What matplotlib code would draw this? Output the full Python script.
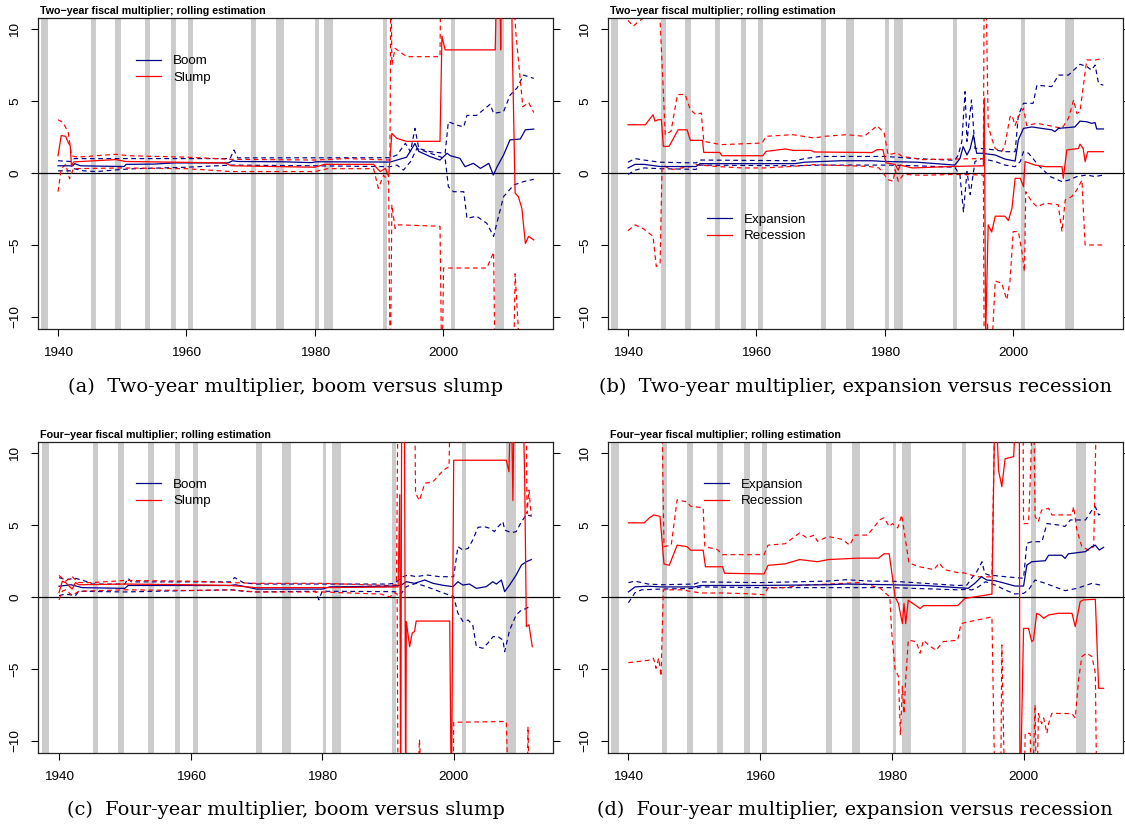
import matplotlib
matplotlib.use("Agg")
import matplotlib.pyplot as plt

plt.rcParams['font.family'] = ['Liberation Sans', 'DejaVu Sans']

# ---------------- data ----------------
RECESSIONS = [(1937.4, 1938.5), (1945.1, 1945.9), (1948.9, 1949.8), (1953.5, 1954.4),
              (1957.6, 1958.4), (1960.3, 1961.1), (1970.0, 1970.9), (1973.9, 1975.2),
              (1980.1, 1980.6), (1981.5, 1982.9), (1990.6, 1991.3), (2001.2, 2001.9),
              (2008.0, 2009.5)]

YTICKS = [-10, -5, 0, 5, 10]
XTICKS = [1940, 1960, 1980, 2000]

TITLES = ["Two\u2212year fiscal multiplier; rolling estimation",
          "Two\u2212year fiscal multiplier; rolling estimation",
          "Four\u2212year fiscal multiplier; rolling estimation",
          "Four\u2212year fiscal multiplier; rolling estimation"]
CAPTIONS = ["(a)  Two-year multiplier, boom versus slump",
            "(b)  Two-year multiplier, expansion versus recession",
            "(c)  Four-year multiplier, boom versus slump",
            "(d)  Four-year multiplier, expansion versus recession"]
LEGENDS = [("Boom", "Slump"), ("Expansion", "Recession"),
           ("Boom", "Slump"), ("Expansion", "Recession")]

# Panel (a): two-year, boom / slump  (year, value); +-15 = off scale
A_BOOM = [(1940, 0.5), (1942.3, 0.5), (1942.6, 0.65), (1943.5, 0.5), (1950.3, 0.45), (1950.6, 0.6),
          (1955, 0.62), (1958, 0.7), (1966.5, 0.7), (1967.2, 0.85), (1968, 0.8), (1975, 0.78),
          (1979.5, 0.72), (1980.2, 0.78), (1991.75, 0.76), (1992.8, 0.9), (1994.3, 1.1), (1995.6, 2.05),
          (1996.2, 1.5), (1998.0, 1.13), (1999.5, 0.9), (2000.6, 1.37), (2001.1, 1.2), (2002.6, 1.02),
          (2003.4, 0.44), (2004.7, 0.67), (2005.8, 0.32), (2007.1, 0.67), (2007.8, -0.14), (2008.4, 0.44),
          (2009.4, 1.25), (2010.4, 2.3), (2012.0, 2.36), (2012.8, 3.0), (2014.1, 3.05)]
A_BOOM_HI = [(1940, 0.85), (1942, 0.8), (1942.5, 1.0), (1945, 1.0), (1955, 1.0), (1966.8, 1.0), (1967.4, 1.6),
             (1968, 1.05), (1991.75, 1.06), (1992.8, 1.25), (1994.1, 2.06), (1994.9, 1.48), (1995.6, 3.1),
             (1996.2, 1.7), (1998, 1.48), (2000.3, 1.37), (2000.8, 3.56), (2002.1, 3.33), (2003.2, 3.2),
             (2003.7, 4.0), (2005.2, 4.0), (2006.3, 4.4), (2007.3, 4.77), (2007.85, 4.14), (2009.4, 4.26),
             (2010.4, 5.4), (2011.5, 5.9), (2012.5, 6.8), (2014.1, 6.57)]
A_BOOM_LO = [(1940, 0.15), (1942, 0.15), (1942.5, 0.3), (1944, 0.15), (1946, 0.1), (1950, 0.25), (1952, 0.3),
             (1960, 0.4), (1967, 0.55), (1980, 0.5), (1991.75, 0.44), (1992.8, 0.55), (1993.8, 0.2),
             (1994.9, 0.79), (1995.9, 1.7), (1998, 1.37), (2000.3, 1.0), (2000.8, -0.95), (2001.6, -1.3),
             (2003.2, -1.3), (2003.7, -3.15), (2005.2, -3.0), (2006.8, -3.5), (2007.85, -4.4), (2008.4, -3.4),
             (2009.4, -1.64), (2011.0, -0.83), (2012.5, -0.6), (2014.1, -0.44)]
A_SLUMP = [(1940, 1.2), (1940.5, 2.6), (1941.2, 2.55), (1941.6, 2.1), (1941.9, 1.9), (1942.1, 0.45),
           (1942.4, 0.77), (1949, 0.93), (1950.5, 0.8), (1966, 0.7), (1967, 0.5), (1980, 0.4), (1981.5, 0.6),
           (1989.15, 0.6), (1989.7, 0.32), (1990.2, 0.1), (1991.0, 0.32), (1991.5, -0.25), (1992.0, 2.75),
           (1992.8, 2.4), (1994.3, 2.2), (1999.5, 2.2), (1999.8, 9.5), (2000.3, 8.55), (2008.1, 8.55),
           (2008.4, 15), (2008.8, 15), (2008.95, 8.55), (2009.1, 15), (2010.6, 15), (2010.75, 9.1),
           (2011.2, -1.4), (2011.7, -1.64), (2012.25, -2.45), (2012.8, -4.9), (2013.3, -4.4), (2014.1, -4.65)]
A_SLUMP_HI = [(1940, 3.7), (1940.8, 3.5), (1941.6, 2.8), (1942.1, 1.2), (1943, 1.1), (1949, 1.3), (1951, 1.2),
              (1960, 1.1), (1967, 0.95), (1980, 0.9), (1985, 1.0), (1991.7, 0.9), (1991.85, 15), (1992.0, 7.5),
              (1992.5, 8.66), (1994.3, 8.08), (1999.5, 8.08), (1999.65, 15), (2010.7, 15), (2011.3, 9.8),
              (2012.4, 4.6), (2013.3, 4.9), (2014.1, 4.2)]
A_SLUMP_LO = [(1940, -1.3), (1940.5, 0.3), (1941.2, 0.6), (1941.8, -0.4), (1942.4, 0.3), (1950, 0.35),
              (1960, 0.3), (1967, 0.1), (1980, 0.1), (1982, 0.3), (1989.15, 0.3), (1989.9, -1.06),
              (1990.7, -0.15), (1991.5, -0.6), (1991.75, -15), (1992.0, -2.2), (1992.5, -3.85), (1993.0, -3.6),
              (1999.5, -3.7), (1999.8, -15), (2000.05, -6.6), (2006.8, -6.6), (2007.85, -5.5), (2008.1, -15),
              (2010.9, -15), (2011.2, -7.0), (2012.25, -15), (2014.1, -15)]

# Panel (b): two-year, expansion / recession
B_EXP = [(1940, 0.35), (1941.1, 0.6), (1942.5, 0.6), (1945, 0.45), (1950.6, 0.45), (1951.2, 0.65), (1966, 0.65),
         (1967.5, 0.75), (1973, 0.85), (1978, 0.85), (1980, 0.8), (1985, 0.75), (1990.9, 0.55), (1991.7, 1.0),
         (1992.2, 1.83), (1992.8, 1.25), (1993.3, 1.7), (1993.8, 2.64), (1994.3, 1.37), (1995.1, 1.37),
         (1997.2, 1.25), (1998.7, 0.97), (2000.3, 0.83), (2000.8, 2.3), (2001.6, 3.1), (2002.9, 3.2),
         (2004.4, 3.1), (2006.0, 3.0), (2006.5, 2.87), (2007.05, 3.1), (2009.6, 3.2), (2010.4, 3.6),
         (2011.45, 3.56), (2012.2, 3.45), (2012.75, 3.5), (2013.0, 3.06), (2014.05, 3.06)]
B_EXP_HI = [(1940, 0.75), (1941.1, 1.0), (1942.5, 0.9), (1945, 0.75), (1950.6, 0.7), (1951.2, 0.9), (1966, 0.85),
            (1967.5, 1.0), (1970, 1.15), (1980, 1.15), (1985, 1.0), (1990.9, 0.88), (1991.45, 1.25), (1992.0, 2.2),
            (1992.5, 5.65), (1992.8, 2.2), (1993.5, 5.07), (1994.05, 1.7), (1995.1, 1.7), (1997.2, 1.6),
            (1998.7, 1.48), (2000.3, 1.48), (2000.8, 4.0), (2001.6, 4.84), (2003.1, 4.84), (2003.7, 6.1),
            (2006.0, 6.0), (2007.05, 6.8), (2008.6, 6.8), (2010.4, 7.55), (2011.45, 7.4), (2012.2, 7.15),
            (2012.75, 7.5), (2013.3, 6.2), (2014.05, 6.1)]
B_EXP_LO = [(1940, -0.1), (1941.1, 0.2), (1942.5, 0.35), (1945, 0.3), (1950.6, 0.25), (1951.2, 0.55), (1966, 0.5),
            (1970, 0.55), (1980, 0.55), (1985, 0.5), (1990.9, 0.4), (1991.7, -0.14), (1992.25, -2.7),
            (1992.8, 0.1), (1993.3, -1.5), (1994.05, 0.8), (1995.1, 1.0), (1997.2, 0.8), (1998.7, 0.55),
            (2000.3, 0.44), (2001.1, 0.8), (2001.6, 1.48), (2002.4, 1.37), (2003.9, 0.55), (2005.75, -0.25),
            (2007.6, -0.6), (2008.6, -0.5), (2009.9, -0.25), (2011.45, -0.14), (2012.75, -0.25), (2014.05, -0.14)]
B_REC = [(1940, 3.35), (1942.7, 3.35), (1943.9, 4.05), (1944.2, 3.6), (1944.7, 3.7), (1945.2, 3.7), (1945.5, 1.85),
         (1946.4, 1.85), (1947.8, 3.0), (1949.2, 3.0), (1949.7, 2.27), (1951.6, 2.27), (1951.8, 1.43),
         (1954.3, 1.43), (1954.6, 1.2), (1961.0, 1.2), (1961.5, 1.5), (1964.5, 1.67), (1965.7, 1.57),
         (1968.5, 1.57), (1969.0, 1.46), (1978.0, 1.42), (1978.8, 1.62), (1979.7, 1.62), (1980.2, 0.7),
         (1981.6, 0.6), (1982.1, 0.2), (1982.4, 0.55), (1984.3, 0.35), (1991.0, 0.46), (1995.35, 0.5),
         (1995.5, 5.2), (1995.7, -11.5), (1996.1, -3.6), (1996.65, -4.1), (1997.2, -3.0), (1998.7, -3.0),
         (1999.25, -3.3), (1999.8, -2.45), (2000.3, -0.37), (2001.1, -0.37), (2001.6, -0.95), (2001.85, 0.79),
         (2003.4, 0.55), (2005.0, 0.44), (2007.6, 0.44), (2007.8, -0.37), (2008.35, 1.6), (2010.15, 1.7),
         (2010.4, 2.0), (2010.9, 1.7), (2011.2, 0.79), (2011.6, 1.48), (2014.05, 1.48)]
B_REC_HI = [(1940, 10.6), (1940.8, 10.2), (1941.6, 10.5), (1942.5, 10.8), (1943.5, 11.5), (1944.9, 11.5),
            (1945.8, 2.66), (1946.7, 2.9), (1947.7, 5.45), (1948.9, 5.45), (1949.7, 4.4), (1950.6, 4.05),
            (1951.4, 4.17), (1951.8, 2.2), (1954.5, 1.97), (1960.9, 2.08), (1961.5, 2.55), (1965.7, 2.66),
            (1969.0, 2.43), (1970.7, 2.55), (1974.0, 2.66), (1976.8, 2.55), (1978.8, 3.28), (1979.9, 2.78),
            (1980.5, 1.27), (1981.9, 1.4), (1982.7, 1.16), (1985.8, 0.93), (1990.8, 0.97), (1995.35, 1.0),
            (1995.5, 15), (1995.7, 15), (1996.1, 3.3), (1996.65, 2.4), (1997.2, 1.7), (1998.2, 1.48),
            (1998.7, 1.94), (1999.5, 3.9), (1999.8, 4.0), (2000.3, 3.3), (2000.8, 3.9), (2001.6, 4.5),
            (2002.1, 3.3), (2003.7, 3.45), (2005.5, 3.3), (2007.6, 3.1), (2008.6, 3.8), (2009.4, 5.07),
            (2009.9, 4.14), (2010.4, 4.26), (2011.45, 7.85), (2012.75, 7.85), (2014.05, 7.96)]
B_REC_LO = [(1940, -4.0), (1941.1, -3.6), (1942.5, -3.9), (1943.9, -4.4), (1944.4, -6.5), (1945.0, -6.3),
            (1945.3, 0.46), (1945.8, 0.46), (1946.7, 0.23), (1948.3, 0.35), (1950.0, 0.46), (1950.6, 0.58),
            (1953.6, 0.46), (1957.8, 0.35), (1961.2, 0.35), (1965.7, 0.46), (1969.0, 0.58), (1977.4, 0.46),
            (1979.1, 0.35), (1979.9, -0.1), (1980.5, -0.46), (1981.3, -0.58), (1981.6, 0.23), (1982.1, -0.58),
            (1982.9, -0.1), (1985.8, -0.16), (1990.8, -0.1), (1995.35, -0.14), (1995.5, -15), (1996.0, -10.5),
            (1996.35, -15), (1997.2, -7.5), (1998.2, -7.65), (1999.0, -8.8), (1999.5, -7.5), (2000.0, -4.07),
            (2000.8, -4.07), (2001.35, -5.46), (2001.75, -6.85), (2001.95, -1.3), (2002.9, -2.0),
            (2003.7, -2.34), (2005.0, -2.1), (2007.0, -2.2), (2007.6, -4.07), (2008.1, -1.87), (2009.1, -1.64),
            (2009.9, -1.18), (2010.7, -0.5), (2011.2, -5.0), (2014.05, -5.0)]

# Panel (c): four-year, boom / slump
C_BOOM = [(1940, 0.75), (1941.85, 0.85), (1943.5, 0.65), (1950.0, 0.6), (1950.5, 0.8), (1966.0, 0.8),
          (1966.8, 0.85), (1968, 0.75), (1970, 0.55), (1980, 0.55), (1981.15, 0.7), (1991.0, 0.76),
          (1992.05, 0.83), (1992.8, 1.06), (1994.05, 0.95), (1995.6, 1.18), (1996.85, 0.95), (1998.4, 0.81),
          (1999.9, 0.72), (2000.65, 1.06), (2001.4, 0.83), (2002.4, 0.9), (2003.45, 0.6), (2004.95, 0.72),
          (2005.95, 1.06), (2006.5, 0.9), (2007.25, 1.18), (2007.75, 0.37), (2008.5, 0.83), (2009.5, 1.53),
          (2010.3, 2.22), (2011.05, 2.45), (2011.8, 2.6)]
C_BOOM_HI = [(1940, 1.35), (1941, 1.2), (1942.5, 1.3), (1944, 1.1), (1945, 0.9), (1950, 0.9), (1950.5, 1.3),
             (1951, 1.05), (1966, 1.05), (1966.7, 1.35), (1968, 1.0), (1970, 0.9), (1990, 0.9), (1991.0, 0.95),
             (1992.3, 1.41), (1993.05, 1.53), (1994.3, 1.41), (1995.85, 1.53), (1997.9, 1.41), (2000.0, 1.41),
             (2000.65, 3.5), (2001.4, 3.26), (2002.2, 3.38), (2002.9, 3.96), (2003.7, 4.84), (2004.7, 4.88),
             (2005.5, 4.77), (2006.2, 4.54), (2006.75, 4.88), (2007.5, 5.23), (2007.75, 4.65), (2008.75, 4.47),
             (2009.5, 4.54), (2010.3, 5.23), (2011.05, 5.7), (2011.8, 5.63)]
C_BOOM_LO = [(1940, 0.1), (1941, 0.2), (1942.5, 0.1), (1943, 0.4), (1950, 0.35), (1960, 0.45), (1966.5, 0.5),
             (1968, 0.4), (1970, 0.35), (1979, 0.4), (1979.5, -0.2), (1980, 0.4), (1991.0, 0.37), (1992.05, 0.25),
             (1992.8, 0.72), (1994.3, 0.95), (1995.85, 0.72), (1997.9, 0.37), (2000.0, 0.02), (2000.65, -1.13),
             (2001.4, -1.7), (2002.2, -1.6), (2002.9, -1.94), (2003.45, -3.45), (2004.45, -3.56), (2005.2, -3.2),
             (2006.0, -2.75), (2006.75, -2.75), (2007.5, -3.0), (2007.75, -3.8), (2008.5, -2.3), (2009.5, -1.25),
             (2010.3, -0.9), (2011.05, -0.8), (2011.8, -0.56)]
C_SLUMP = [(1940, 0.3), (1940.5, 1.1), (1941, 1.0), (1942, 0.55), (1942.5, 1.0), (1943, 0.85), (1950, 0.9),
           (1960, 0.85), (1966, 0.8), (1970, 0.65), (1980, 0.65), (1991.55, 0.7), (1991.8, 7.1), (1991.95, -15),
           (1992.1, 15), (1992.5, 15), (1992.7, -15), (1992.8, -1.7), (1993.3, -3.45), (1993.7, -2.5),
           (1994.05, -2.4), (1994.3, -1.67), (1999.4, -1.67), (1999.65, -15), (2000.0, 9.5), (2008.0, 9.5),
           (2008.4, 8.7), (2008.75, 15), (2009.0, 6.7), (2009.25, 15), (2010.5, 15), (2010.8, 8.0),
           (2011.05, -2.06), (2011.45, -1.94), (2011.95, -3.45)]
C_SLUMP_HI = [(1940, 1.5), (1941, 1.1), (1942, 1.4), (1943, 1.0), (1945, 1.0), (1950, 1.15), (1960, 1.1),
              (1966, 1.0), (1970, 0.95), (1980, 0.95), (1990, 0.8), (1991.3, 0.85), (1991.55, 15), (1994.05, 15),
              (1994.2, 7.2), (1994.8, 6.7), (1995.6, 7.9), (1996.85, 8.0), (1998.4, 8.8), (1999.3, 9.05),
              (1999.5, 15), (2011.0, 15), (2011.15, 5.8), (2011.45, 7.43), (2011.8, 5.58)]
C_SLUMP_LO = [(1940, -0.2), (1940.5, 0.4), (1941, 0.5), (1942, 0.1), (1943, 0.4), (1950, 0.5), (1960, 0.45),
              (1966, 0.5), (1970, 0.35), (1980, 0.35), (1989, 0.2), (1990.3, 0.0), (1991.0, 0.3), (1991.4, 0.2),
              (1991.55, -15), (1994.3, -15), (1994.8, -9.9), (1995.3, -15), (1999.9, -15), (2000.0, -8.7),
              (2008.0, -8.65), (2008.4, -15), (2011.15, -15), (2011.3, -9.0), (2011.55, -15)]

# Panel (d): four-year, expansion / recession
D_EXP = [(1940, 0.35), (1941.0, 0.7), (1943, 0.75), (1945, 0.7), (1950, 0.7), (1951, 0.8), (1960, 0.8),
         (1970, 0.85), (1973, 0.9), (1980, 0.85), (1985, 0.8), (1990, 0.65), (1991.6, 0.6), (1992.6, 0.95),
         (1993.6, 1.41), (1994.4, 1.18), (1995.7, 1.13), (1997.2, 0.95), (1998.7, 0.76), (2000.0, 0.76),
         (2000.5, 2.22), (2001.25, 2.45), (2003.3, 2.52), (2003.8, 2.9), (2005.8, 2.9), (2006.3, 2.68),
         (2006.8, 3.0), (2009.4, 3.15), (2010.4, 3.5), (2010.9, 3.6), (2011.5, 3.26), (2012.15, 3.45)]
D_EXP_HI = [(1940, 1.0), (1941, 1.1), (1943, 0.9), (1945, 0.85), (1950, 0.9), (1951, 1.05), (1960, 1.0),
            (1970, 1.1), (1973, 1.2), (1977, 1.1), (1980, 1.1), (1990, 0.8), (1991.4, 0.83), (1992.1, 1.3),
            (1992.9, 1.76), (1993.7, 2.45), (1994.1, 1.64), (1994.7, 1.53), (1997.2, 1.41), (2000.0, 1.3),
            (2000.5, 3.73), (2001.25, 3.84), (2002.8, 3.84), (2003.55, 5.1), (2005.3, 5.0), (2006.3, 4.9),
            (2007.1, 5.35), (2009.4, 5.35), (2010.4, 6.04), (2010.9, 6.27), (2011.4, 5.7), (2011.65, 5.76)]
D_EXP_LO = [(1940, -0.4), (1941, 0.3), (1942, 0.5), (1945, 0.55), (1950, 0.6), (1951, 0.7), (1960, 0.65),
            (1970, 0.65), (1980, 0.65), (1990, 0.5), (1991.4, 0.53), (1992.15, 0.49), (1993.2, 0.72),
            (1994.2, 1.06), (1995.7, 0.83), (1997.2, 0.49), (1998.7, 0.21), (2000.0, 0.25), (2000.75, 0.49),
            (2001.75, 1.18), (2003.3, 0.95), (2006.3, 0.44), (2008.1, 0.6), (2010.4, 0.95), (2011.65, 0.83)]
D_REC = [(1940, 5.15), (1942.4, 5.15), (1943.2, 5.5), (1943.85, 5.7), (1944.8, 5.6), (1945.4, 2.3),
         (1946.2, 2.2), (1947.4, 3.6), (1948.9, 3.5), (1949.45, 3.25), (1951.35, 3.25), (1951.7, 2.1),
         (1954.3, 2.1), (1954.6, 1.65), (1960.6, 1.6), (1961.2, 2.2), (1963.8, 2.3), (1966.0, 2.6),
         (1968.7, 2.45), (1970.35, 2.6), (1975, 2.7), (1978.0, 2.7), (1978.8, 3.0), (1979.6, 3.0),
         (1980.5, 0.0), (1981.0, -0.45), (1981.6, -1.85), (1981.85, -0.45), (1982.1, -1.85), (1982.5, -0.23),
         (1984.3, -0.8), (1984.8, -0.6), (1990.0, -0.6), (1991.1, -0.1), (1995.2, 0.2), (1995.7, 15),
         (1996.2, 8.8), (1996.7, 7.66), (1997.2, 9.6), (1998.5, 9.75), (1999.0, 15), (1999.35, 15),
         (1999.45, -15), (2000.0, -2.18), (2000.75, -2.18), (2001.25, -3.1), (2001.5, -3.0), (2002.0, -1.13),
         (2002.5, -1.25), (2003.05, -1.48), (2003.8, -1.25), (2005.3, -1.13), (2007.35, -1.13),
         (2007.85, -2.06), (2008.6, -0.32), (2009.1, -0.2), (2010.9, -0.16), (2011.4, -6.34), (2012.15, -6.34)]
D_REC_HI = [(1940, 15), (1945.0, 15), (1945.4, 3.5), (1946.5, 3.6), (1947.4, 6.75), (1948.9, 6.6),
            (1949.45, 6.3), (1951.35, 6.2), (1951.6, 3.5), (1953.5, 3.3), (1954.3, 2.94), (1960.6, 2.94),
            (1961.2, 3.6), (1963.8, 3.7), (1966.0, 4.45), (1967.1, 4.1), (1968.2, 4.3), (1968.7, 3.87),
            (1970.35, 4.2), (1972.5, 4.0), (1973.6, 3.6), (1974.4, 4.3), (1976.3, 4.3), (1978.2, 5.37),
            (1978.8, 5.5), (1979.6, 4.9), (1980.1, 5.1), (1980.9, 4.8), (1981.5, 5.7), (1982.6, 2.36),
            (1984.2, 2.1), (1986.4, 1.9), (1987.2, 2.36), (1988, 1.9), (1989.9, 1.7), (1991.0, 1.67),
            (1993, 1.4), (1995.2, 1.4), (1995.7, 15), (1999.9, 15), (2000.0, 5.1), (2000.75, 5.1),
            (2001.0, 7.9), (2001.5, 15), (2001.75, 5.58), (2002.25, 5.23), (2002.75, 6.04), (2003.8, 6.16),
            (2004.3, 5.7), (2007.35, 5.7), (2007.6, 6.27), (2008.1, 4.65), (2008.85, 3.5), (2009.85, 3.26),
            (2010.65, 3.5), (2011.15, 15), (2012.15, 15)]
D_REC_LO = [(1940, -4.56), (1943.0, -4.4), (1943.8, -4.25), (1944.2, -4.95), (1944.6, -4.25), (1944.95, -5.5),
            (1945.3, 0.5), (1948.4, 0.5), (1949.2, 0.4), (1951.1, 0.28), (1954.3, 0.28), (1958, 0.23),
            (1960.6, 0.16), (1961.2, 0.63), (1963.8, 0.65), (1966, 0.8), (1970.35, 0.9), (1975, 1.0),
            (1978.2, 0.63), (1979.0, 0.28), (1979.7, 0.0), (1979.95, -2.3), (1980.5, -5.07), (1981.0, -5.5),
            (1981.3, -9.6), (1981.6, -6.2), (1981.85, -8.1), (1982.1, -5.75), (1982.5, -3.0), (1983.7, -3.1),
            (1984.3, -3.9), (1984.8, -3.0), (1985.6, -3.35), (1986.7, -3.7), (1987.8, -3.1), (1990.0, -3.0),
            (1990.5, -1.85), (1991.6, -1.73), (1995.2, -1.38), (1995.7, -15), (1996.5, -15), (1996.7, -3.33),
            (1997.2, -15), (2000.0, -15), (2000.25, -9.47), (2001.0, -9.47), (2001.25, -15), (2001.75, -7.5),
            (2002.0, -15), (2002.25, -8.1), (2002.75, -8.8), (2003.05, -8.4), (2003.55, -9.47), (2003.8, -8.8),
            (2004.3, -8.08), (2007.35, -8.1), (2007.85, -8.4), (2008.35, -5.76), (2008.85, -4.14),
            (2009.6, -3.9), (2010.4, -4.14), (2010.9, -5.3), (2011.15, -15), (2012.15, -15)]

PANELS = [
    (A_BOOM, A_BOOM_LO, A_BOOM_HI, A_SLUMP, A_SLUMP_LO, A_SLUMP_HI),
    (B_EXP, B_EXP_LO, B_EXP_HI, B_REC, B_REC_LO, B_REC_HI),
    (C_BOOM, C_BOOM_LO, C_BOOM_HI, C_SLUMP, C_SLUMP_LO, C_SLUMP_HI),
    (D_EXP, D_EXP_LO, D_EXP_HI, D_REC, D_REC_LO, D_REC_HI),
]

# ---------------- layout ----------------
W, H = 1125, 827
BLUE = '#00008B'
RED = '#FF0000'
GREY = '#CCCCCC'

fig = plt.figure(figsize=(W / 100, H / 100), dpi=100)

# axes boxes in pixels: left, top, right, bottom
BOXES = [(38, 17.5, 553, 328.5), (608, 17.5, 1123, 328.5),
         (38, 441.5, 553, 752.5), (608, 441.5, 1123, 752.5)]
XLIMS = [(1936.88, 2017.1), (1936.88, 2017.1), (1936.8, 2015.1), (1936.9, 2015.1)]
LEG_POS = [(0.19, 0.879), (0.192, 0.369), (0.19, 0.880), (0.186, 0.880)]
CAP_POS = [(286, 387, 436), (856, 387, 514), (286, 810, 437), (855, 810, 516)]
TITLE_PX = 227


def xy(series):
    return [p[0] for p in series], [p[1] for p in series]


renderer = fig.canvas.get_renderer()
for i, (box, series) in enumerate(zip(BOXES, PANELS)):
    l, t, r, b = box
    ax = fig.add_axes([l / W, 1 - b / H, (r - l) / W, (b - t) / H])
    ax.set_xlim(*XLIMS[i])
    ax.set_ylim(-10.8, 10.8)
    for (s, e) in RECESSIONS:
        ax.axvspan(s, e, color=GREY, lw=0, zorder=0)
    ax.axhline(0, color='black', lw=0.9, zorder=1)

    mid1, lo1, hi1, mid2, lo2, hi2 = series
    for band in (lo1, hi1):
        x, y = xy(band)
        ax.plot(x, y, color=BLUE, lw=0.85, dashes=(4, 3), zorder=2)
    for band in (lo2, hi2):
        x, y = xy(band)
        ax.plot(x, y, color=RED, lw=0.85, dashes=(4, 3), zorder=2)
    x, y = xy(mid1)
    h1, = ax.plot(x, y, color=BLUE, lw=0.9, zorder=3)
    x, y = xy(mid2)
    h2, = ax.plot(x, y, color=RED, lw=0.9, zorder=3)

    ax.set_xticks(XTICKS)
    ax.set_yticks(YTICKS)
    ax.set_yticklabels(["\u221210", "\u22125", "0", "5", "10"])
    ax.tick_params(axis='both', direction='out', length=5, width=0.8, labelsize=9.7, colors='black')
    ax.tick_params(axis='y', right=True, labelrotation=90, pad=7)
    ax.tick_params(axis='x', pad=8)
    for lab in ax.get_yticklabels():
        lab.set_va('center')
    for sp in ax.spines.values():
        sp.set_color('#222222')
        sp.set_linewidth(0.9)

    ttl = ax.text(0.004, 1.0 + 6.5 / 311, TITLES[i], transform=ax.transAxes, fontsize=7,
                  fontweight='bold', ha='left', va='center')
    tw = ttl.get_window_extent(renderer).width
    ttl.set_fontsize(7 * TITLE_PX / tw * (1.0 if i < 2 else 1.02))

    ax.legend([h1, h2], LEGENDS[i], loc='upper left', bbox_to_anchor=LEG_POS[i],
              frameon=False, fontsize=9.6, handlelength=1.9, handletextpad=0.9,
              labelspacing=0.3, borderpad=0, borderaxespad=0)

    cx, cy, cw = CAP_POS[i]
    cap = fig.text(cx / W, 1 - cy / H, CAPTIONS[i], fontsize=14, ha='center', va='center',
                   family=['DejaVu Serif'])
    w = cap.get_window_extent(renderer).width
    cap.set_fontsize(14 * cw / w)

fig.savefig('out.png', dpi=100)
